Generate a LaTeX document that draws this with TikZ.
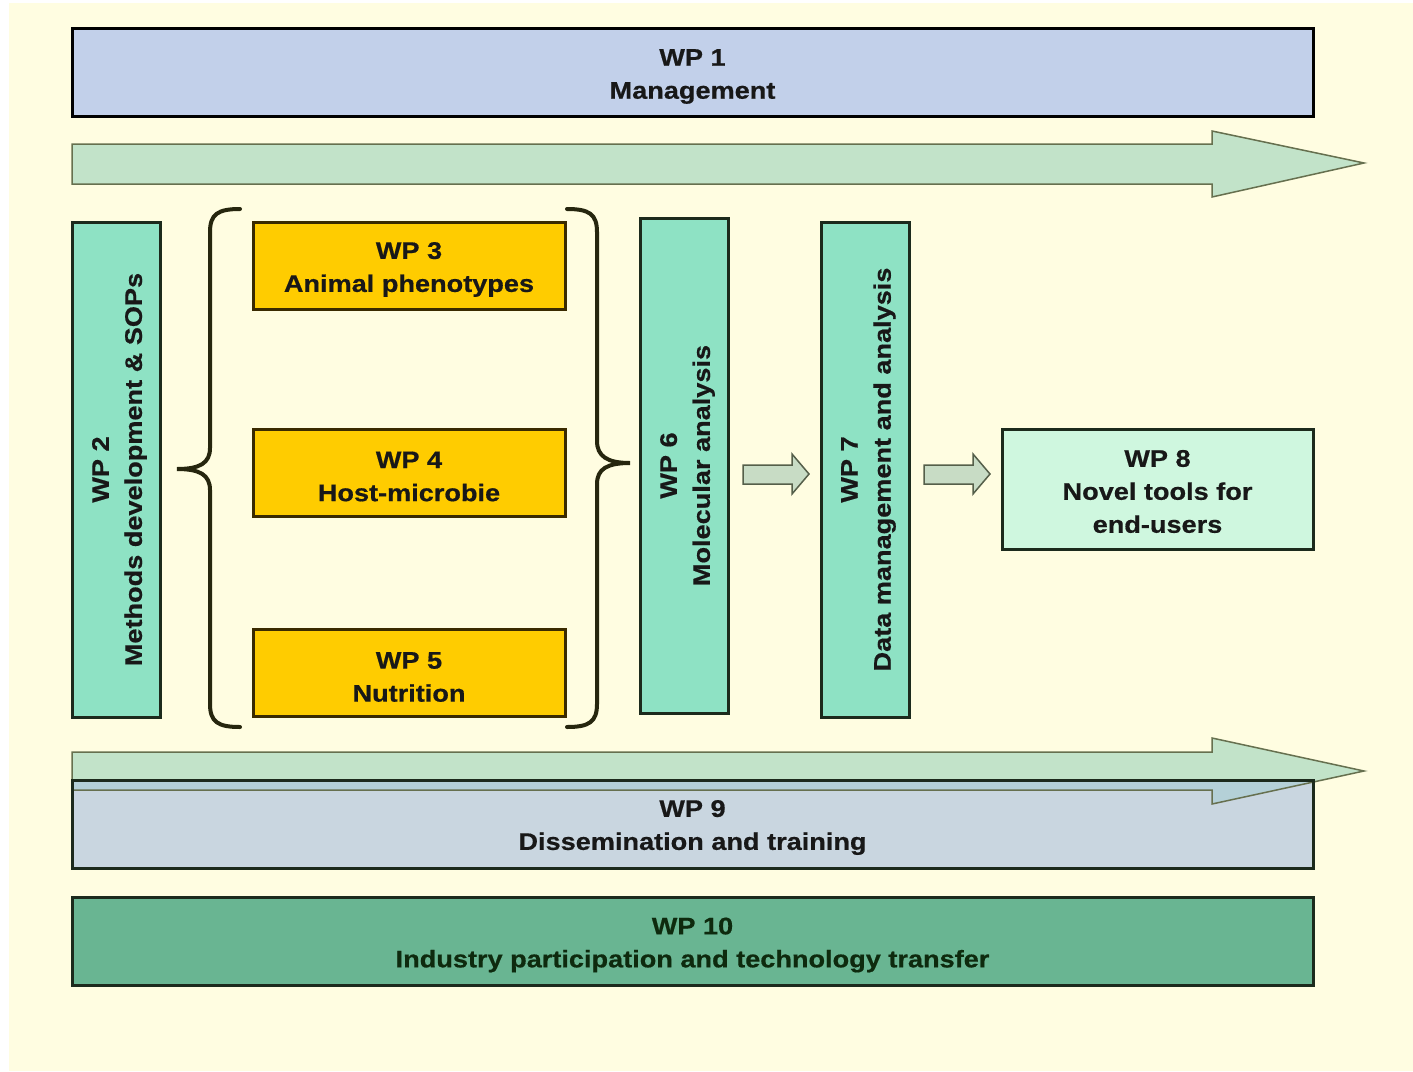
\documentclass[tikz,border=0pt]{standalone}
\usepackage{fontspec}
\newfontfamily\lab[FakeStretch=1.13,FakeBold=0.6]{Liberation Sans}
\definecolor{paper}{HTML}{FFFDE1}
\definecolor{mgmt}{HTML}{C2D0EA}
\definecolor{flow}{HTML}{C2E3C9}
\definecolor{flowline}{HTML}{66704F}
\definecolor{mint}{HTML}{8EE2C4}
\definecolor{gold}{HTML}{FFCC00}
\definecolor{goldline}{HTML}{3A2A00}
\definecolor{pale}{HTML}{CFF7DF}
\definecolor{dissem}{HTML}{C9D6E0}
\definecolor{dissemflow}{HTML}{A6CCD2}
\definecolor{industry}{HTML}{69B592}
\definecolor{darkline}{HTML}{1C2A1C}
\definecolor{txt}{HTML}{181818}
\definecolor{txtgreen}{HTML}{0E2A0E}
\definecolor{stepfill}{HTML}{C8DCC5}
\definecolor{stepline}{HTML}{555F4A}
\definecolor{bracecol}{HTML}{26260E}
\tikzset{
  wpbox/.style={draw=darkline, line width=3pt, inner sep=0pt},
  wptext/.style={inner sep=0pt, align=center,
    font=\lab\bfseries\fontsize{24}{33}\selectfont, text=txt},
  uptext/.style={wptext, rotate=90},
  bandbox/.style={wpbox, minimum width=1241pt, minimum height=88pt},
  tallbox/.style={wpbox, fill=mint, minimum width=88pt, minimum height=495pt},
  goldbox/.style={wpbox, fill=gold, draw=goldline, minimum width=312pt, minimum height=87pt},
  bigflow/.style={fill=flow, draw=flowline, line width=1.5pt, line join=miter},
  stepflow/.style={fill=stepfill, draw=stepline, line width=1.5pt},
  bracket/.style={draw=bracecol, line width=4pt, line cap=round},
}
\begin{document}
\begin{tikzpicture}[x=1pt,y=-1pt]
\useasboundingbox (0,0) rectangle (1413,1071);
\fill[paper] (9,3) rectangle (1413,1071);

% WP 1 band
\node[bandbox, fill=mgmt, draw=black] (wp1) at (692.5,72) {};
\node[wptext] (wp1t) at ([yshift=-4.5pt]wp1.center) {WP 1\\Management};

% upper flow arrow
\draw[bigflow] (72,144) -- (1212,144) -- (1212,131) -- (1364,163) -- (1212,197)
  -- (1212,184) -- (72,184) -- cycle;

% vertical work packages
\node[tallbox] (wp2) at (116,469.5) {};
\node[uptext] (wp2t) at ([xshift=3.5pt]wp2.center) {WP 2\\Methods development \& SOPs};
\node[tallbox] (wp6) at (684,465.5) {};
\node[uptext] (wp6t) at ([xshift=3.5pt]wp6.center) {WP 6\\Molecular analysis};
\node[tallbox] (wp7) at (865,469.5) {};
\node[uptext] (wp7t) at ([xshift=3.5pt]wp7.center) {WP 7\\Data management and analysis};

% animal / host / nutrition packages
\node[goldbox] (wp3) at (409,265.5) {};
\node[wptext] (wp3t) at ([yshift=-4pt]wp3.center) {WP 3\\Animal phenotypes};
\node[goldbox] (wp4) at (409,472.5) {};
\node[wptext] (wp4t) at ([yshift=-4pt]wp4.center) {WP 4\\Host-microbie};
\node[goldbox] (wp5) at (409,673) {};
\node[wptext] (wp5t) at ([yshift=-4pt]wp5.center) {WP 5\\Nutrition};

% braces grouping WP 3-5
\draw[bracket] (240,209) .. controls (218,209) and (210,214) .. (210,232)
  -- (210,448) .. controls (210,463) and (200,469) .. (177,469)
  .. controls (200,469) and (210,475) .. (210,490)
  -- (210,704) .. controls (210,722) and (218,727) .. (240,727);
\draw[bracket] (567,209) .. controls (589,209) and (597,214) .. (597,232)
  -- (597,441) .. controls (597,456) and (607,463) .. (630,463)
  .. controls (607,463) and (597,469) .. (597,484)
  -- (597,704) .. controls (597,722) and (589,727) .. (567,727);

% WP 8
\node[wpbox, fill=pale, minimum width=311pt, minimum height=120pt] (wp8) at (1157.5,489) {};
\node[wptext] (wp8t) at ([yshift=-2.5pt]wp8.center) {WP 8\\Novel tools for\\end-users};

% step arrows WP 6 -> WP 7 -> WP 8
\draw[stepflow] (743,465) -- (792,465) -- (792,454) -- (809,474) -- (792,494)
  -- (792,484) -- (743,484) -- cycle;
\draw[stepflow] (924,465) -- (973,465) -- (973,454) -- (990,474) -- (973,494)
  -- (973,484) -- (924,484) -- cycle;

% lower flow arrow, partly under WP 9
\draw[bigflow] (72,752) -- (1212,752) -- (1212,738) -- (1364,771) -- (1212,804)
  -- (1212,790) -- (72,790) -- cycle;
\node[bandbox, fill=dissem, draw=none] (wp9) at (692.5,824.5) {};
\begin{scope}
  \clip (72,781) rectangle (1313,868);
  \draw[bigflow, fill=dissemflow, fill opacity=0.6] (72,752) -- (1212,752) -- (1212,738)
    -- (1364,771) -- (1212,804) -- (1212,790) -- (72,790) -- cycle;
\end{scope}
\node[bandbox] (wp9frame) at (wp9.center) {};
\node[wptext] (wp9t) at ([yshift=-3pt]wp9.center) {WP 9\\Dissemination and training};

% WP 10 band
\node[bandbox, fill=industry, draw=darkline] (wp10) at (692.5,941) {};
\node[wptext, text=txtgreen] (wp10t) at ([yshift=-4pt]wp10.center)
  {WP 10\\Industry participation and technology transfer};
\end{tikzpicture}
\end{document}
